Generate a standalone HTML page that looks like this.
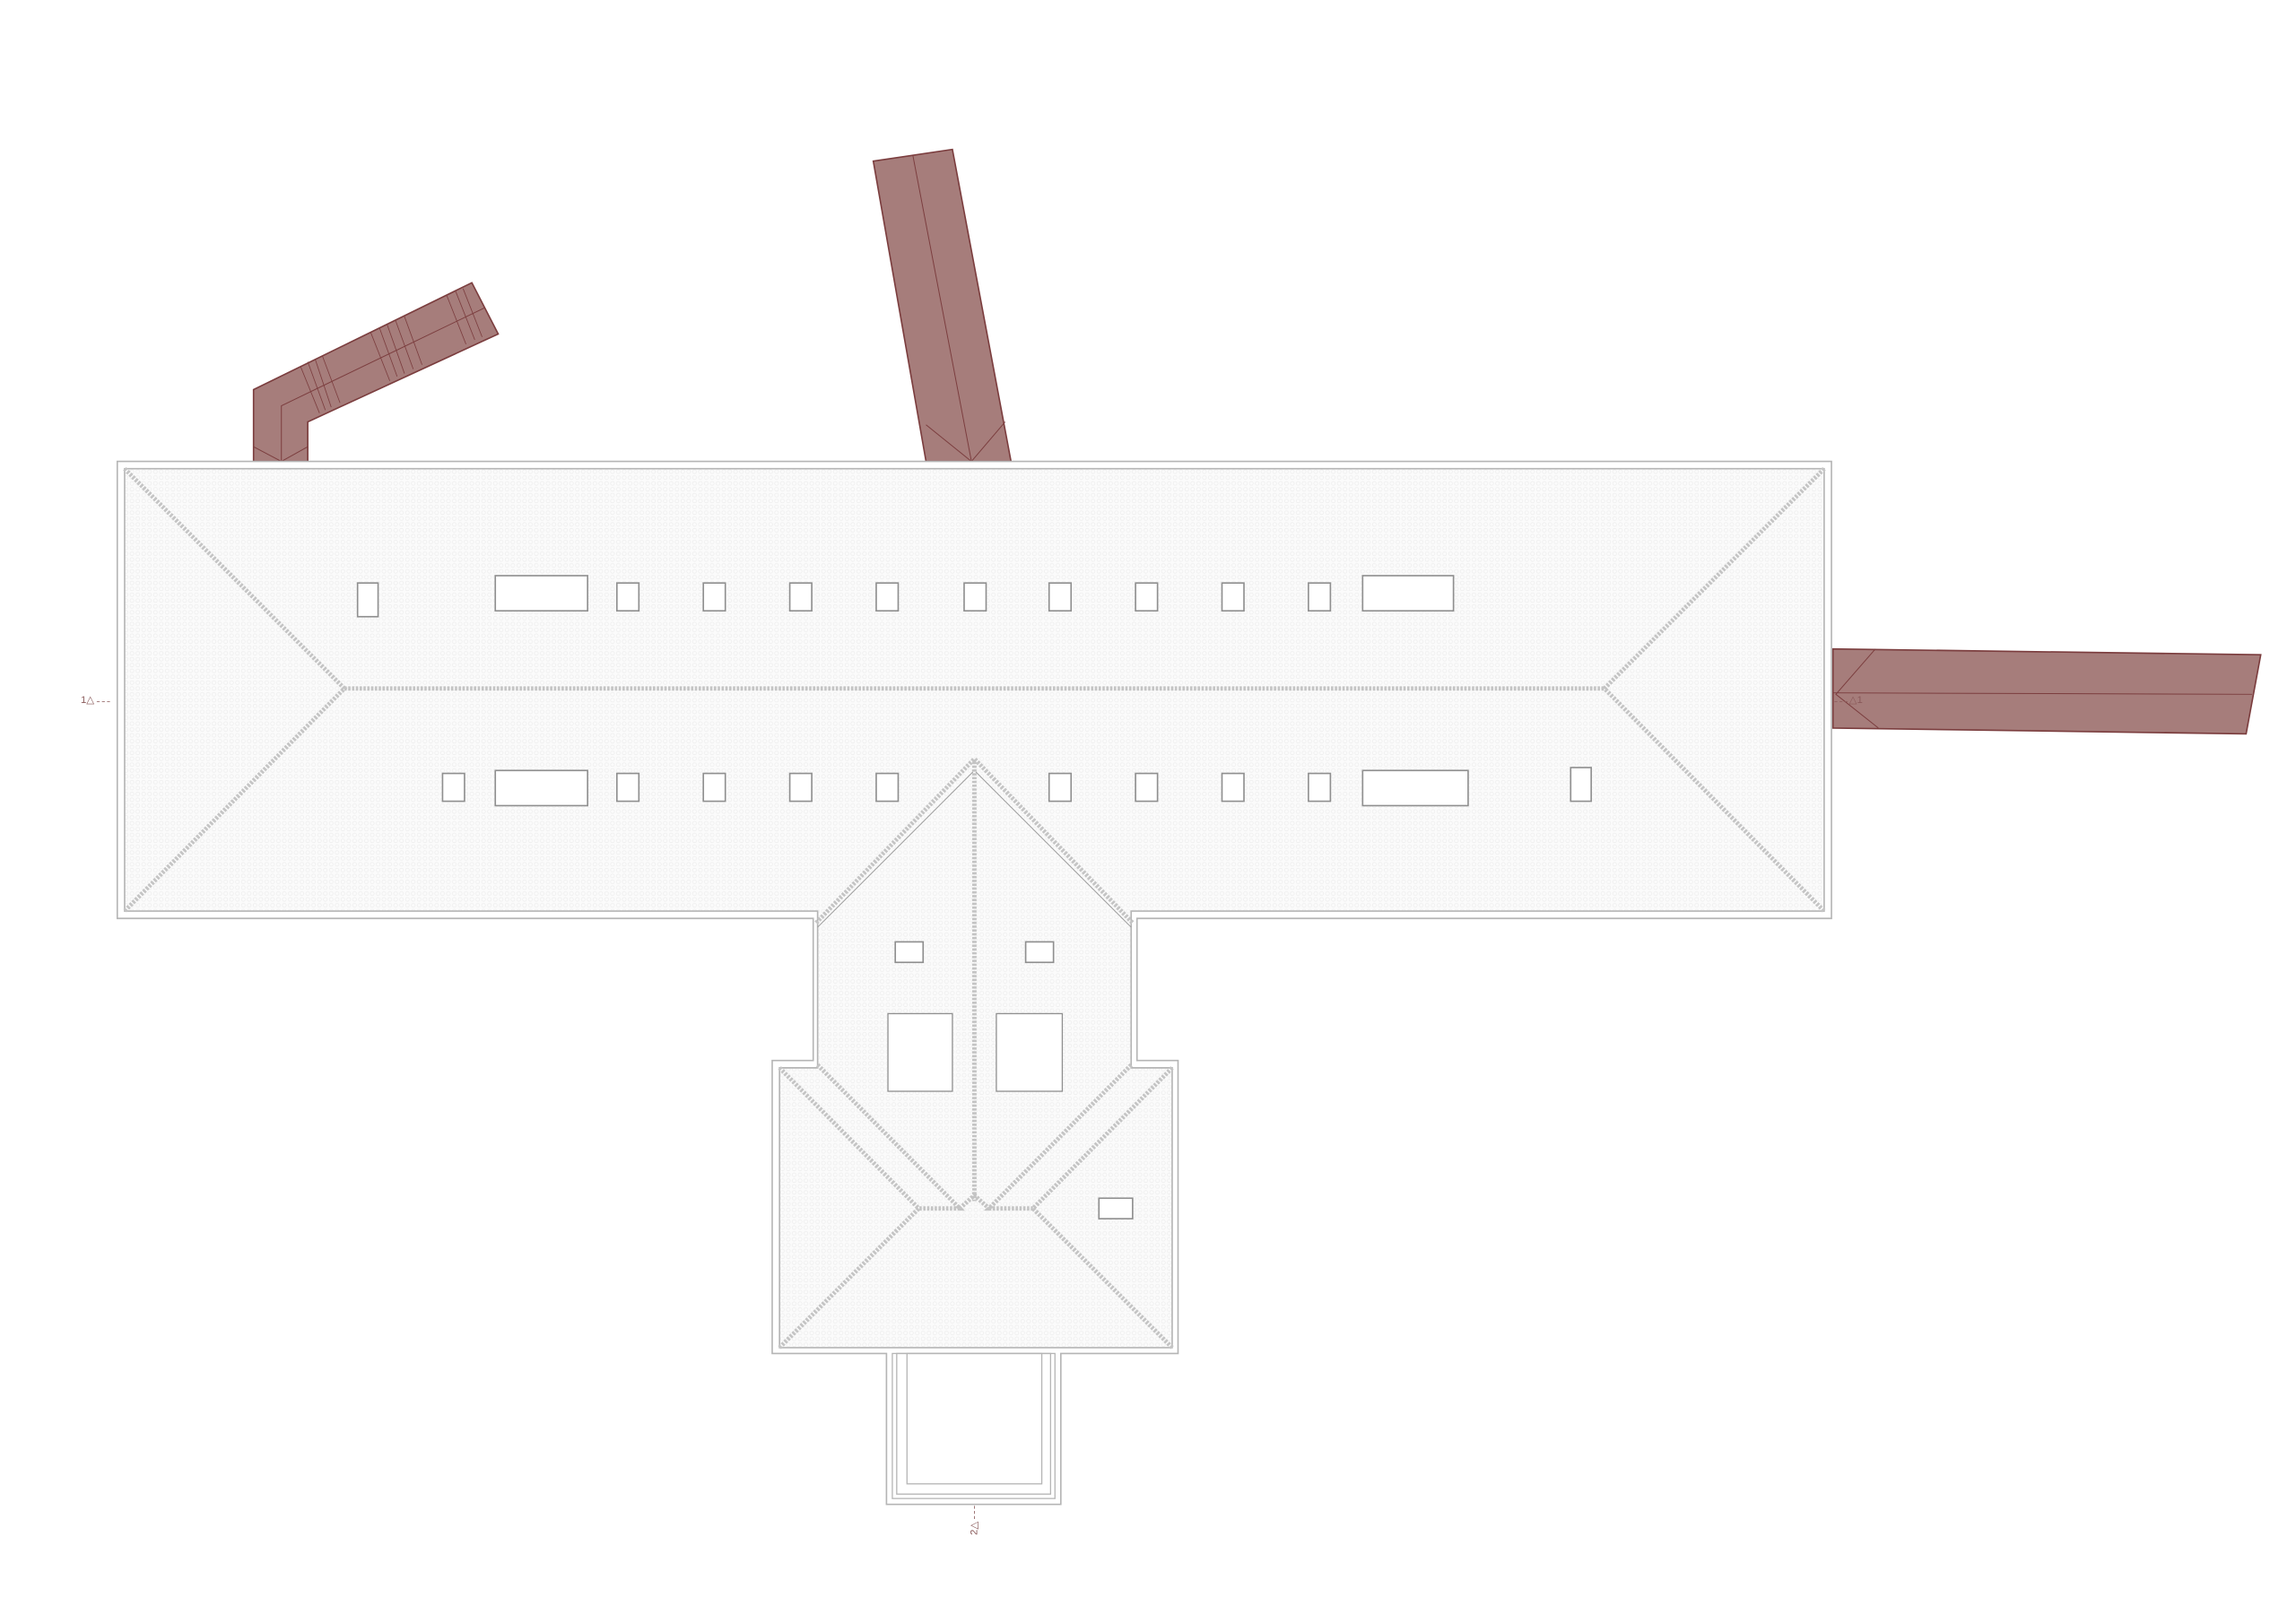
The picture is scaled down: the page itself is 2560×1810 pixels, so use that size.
<!DOCTYPE html>
<html><head><meta charset="utf-8"><style>
html,body{margin:0;padding:0;background:#fff;}
svg{display:block;}
</style></head><body>
<svg width="2560" height="1810" viewBox="0 0 1567 1108" xmlns="http://www.w3.org/2000/svg" font-family="Liberation Sans, sans-serif">
<defs>
<pattern id="tile" width="4" height="4" patternUnits="userSpaceOnUse">
<rect width="4" height="4" fill="#fbfbfb"/><circle cx="2" cy="2" r="1.3" fill="none" stroke="#ececec" stroke-width="0.4"/>
</pattern>
</defs>
<g fill="#a67d7b" stroke="#7b3d3e" stroke-width="1">
<polygon points="173,266 322,193 340,228 210,288 210,315 173,315"/>
<polyline fill="none" points="192,315 192,277 331,210" stroke-width="0.6"/>
<polyline fill="none" points="173,305 192,315 210,305" stroke-width="0.6"/>
<g stroke-width="0.5">
<line x1="205" y1="250" x2="218" y2="282"/><line x1="210" y1="247" x2="222" y2="280"/><line x1="215" y1="245" x2="226" y2="278"/><line x1="220" y1="243" x2="232" y2="275"/>
<line x1="253" y1="227" x2="266" y2="260"/><line x1="259" y1="224" x2="271" y2="257"/><line x1="264" y1="221" x2="276" y2="255"/><line x1="270" y1="219" x2="282" y2="252"/><line x1="276" y1="216" x2="288" y2="249"/>
<line x1="305" y1="202" x2="318" y2="235"/><line x1="311" y1="199" x2="324" y2="232"/><line x1="316" y1="197" x2="329" y2="230"/>
</g>
<polygon points="596,110 650,102 690,315 632,315"/>
<line x1="623" y1="106" x2="663" y2="315" stroke-width="0.6"/>
<polyline fill="none" points="632,290 663,315 686,288" stroke-width="0.6"/>
<polygon points="1251,443 1543,447 1533,501 1251,497"/>
<line x1="1251" y1="473" x2="1537" y2="474" stroke-width="0.6"/>
<polyline fill="none" points="1280,443 1253,474 1282,497" stroke-width="0.6"/>
</g>
<path d="M80,315 H1250 V627 H776 V724 H804 V924 H724 V1027 H605 V924 H527 V724 H555 V627 H80 Z" fill="#fff" stroke="#b5b5b5" stroke-width="1"/>
<path d="M85,320 H1245 V622 H772 V729 H800 V920 H532 V729 H558 V622 H85 Z" fill="url(#tile)" stroke="#b5b5b5" stroke-width="1"/>
<rect x="609" y="924" width="111" height="99" fill="#fff" stroke="#b5b5b5" stroke-width="0.8"/>
<rect x="612" y="924" width="105" height="96" fill="none" stroke="#b5b5b5" stroke-width="0.8"/>
<rect x="619" y="924" width="92" height="89" fill="none" stroke="#b5b5b5" stroke-width="0.8"/>
<g fill="none" stroke="#c4c4c4" stroke-width="3" stroke-dasharray="1.6 1">
<polyline points="85,320 235,470 85,622"/>
<polyline points="1245,320 1095,470 1245,622"/>
<line x1="235" y1="470" x2="1095" y2="470"/>
<polyline points="557,630 665,518 773,630"/>
<line x1="665" y1="520" x2="665" y2="820"/>
<polyline points="558,727 655,825 627,825"/>
<polyline points="772,727 675,825 705,825"/>
<polyline points="532,729 627,825 532,920"/>
<polyline points="800,729 705,825 800,920"/>
<polyline points="655,825 665,816 675,825"/>
</g>
<g fill="none" stroke="#9a9a9a" stroke-width="0.6">
<line x1="558" y1="633" x2="664" y2="527"/><line x1="772" y1="633" x2="666" y2="527"/>
</g>
<g fill="#fff" stroke="#8f8f8f" stroke-width="1">
<rect x="244" y="398" width="14" height="23"/>
<rect x="338" y="393" width="63" height="24"/><rect x="930" y="393" width="62" height="24"/>
<rect x="421" y="398" width="15" height="19"/><rect x="480" y="398" width="15" height="19"/><rect x="539" y="398" width="15" height="19"/><rect x="598" y="398" width="15" height="19"/><rect x="658" y="398" width="15" height="19"/><rect x="716" y="398" width="15" height="19"/><rect x="775" y="398" width="15" height="19"/><rect x="834" y="398" width="15" height="19"/><rect x="893" y="398" width="15" height="19"/>
<rect x="302" y="528" width="15" height="19"/>
<rect x="338" y="526" width="63" height="24"/><rect x="930" y="526" width="72" height="24"/>
<rect x="421" y="528" width="15" height="19"/><rect x="480" y="528" width="15" height="19"/><rect x="539" y="528" width="15" height="19"/><rect x="598" y="528" width="15" height="19"/><rect x="716" y="528" width="15" height="19"/><rect x="775" y="528" width="15" height="19"/><rect x="834" y="528" width="15" height="19"/><rect x="893" y="528" width="15" height="19"/>
<rect x="1072" y="524" width="14" height="23"/>
<rect x="611" y="643" width="19" height="14"/><rect x="700" y="643" width="19" height="14"/>
<rect x="606" y="692" width="44" height="53" stroke-width="0.8"/><rect x="680" y="692" width="45" height="53" stroke-width="0.8"/>
<rect x="750" y="818" width="23" height="14"/>
</g>
<g fill="#8a5a5a" font-size="7">
<text x="55" y="480">1△</text>
<line x1="66" y1="479" x2="76" y2="479" stroke="#8a5a5a" stroke-width="0.5" stroke-dasharray="2 1.5"/>
<text x="1262" y="480">△1</text>
<line x1="1252" y1="479" x2="1262" y2="479" stroke="#8a5a5a" stroke-width="0.5" stroke-dasharray="2 1.5"/>
<line x1="665" y1="1028" x2="665" y2="1038" stroke="#8a5a5a" stroke-width="0.5" stroke-dasharray="2 1.5"/>
<text x="0" y="0" transform="translate(667,1048) rotate(-90)">2△</text>
</g>
</svg>
</body></html>
